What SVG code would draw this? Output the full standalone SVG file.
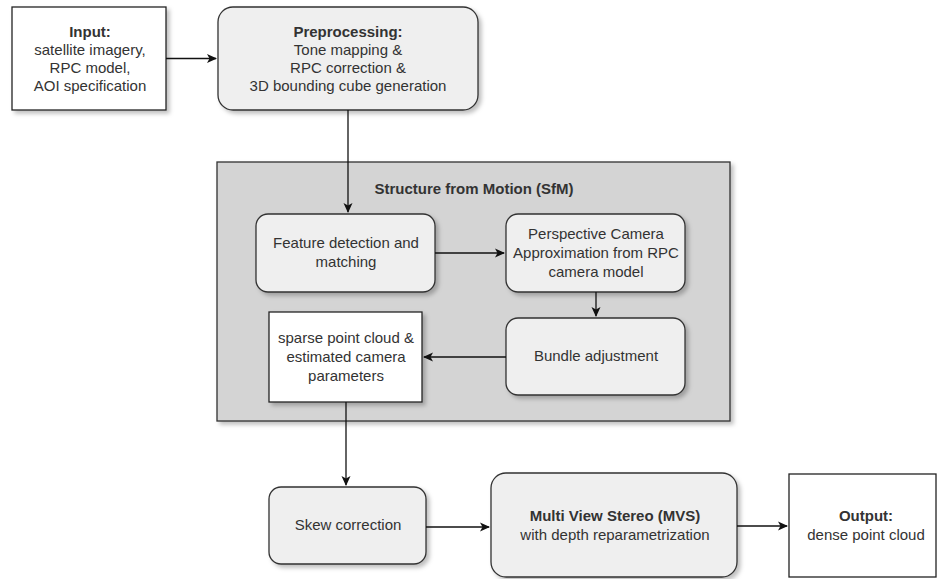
<svg xmlns="http://www.w3.org/2000/svg" width="938" height="579" viewBox="0 0 938 579">
<defs>
<filter id="sh" x="-10%" y="-10%" width="130%" height="140%">
<feDropShadow dx="3" dy="3" stdDeviation="2" flood-color="#000" flood-opacity="0.25"/>
</filter>
<marker id="ah" viewBox="0 0 10 10" refX="9" refY="5" markerWidth="10" markerHeight="10" markerUnits="userSpaceOnUse" orient="auto">
<path d="M0,0.5 L10,5 L0,9.5 L2.5,5 Z" fill="#111"/>
</marker>
<style>
.r{fill:#efefef;stroke:#333;stroke-width:1.3}
.w{fill:#fff;stroke:#222;stroke-width:1.3}
.c{fill:#d4d4d4;stroke:#333;stroke-width:1.3}
text{font-family:"Liberation Sans",Arial,sans-serif;font-size:15px;fill:#333;text-anchor:middle}
.b{font-weight:bold}
.e{fill:none;stroke:#111;stroke-width:1.3}
</style>
</defs>
<g id="sfm">
<rect class="c" x="217" y="162" width="513" height="259" filter="url(#sh)"/>
<text class="b" x="474" y="194">Structure from Motion (SfM)</text>
</g>
<g id="input">
<rect class="w" x="12" y="7" width="154" height="103" filter="url(#sh)"/>
<text x="90" y="37"><tspan class="b" x="90">Input:</tspan><tspan x="90" dy="18">satellite imagery,</tspan><tspan x="90" dy="18">RPC model,</tspan><tspan x="90" dy="18">AOI specification</tspan></text>
</g>
<g id="preprocessing">
<rect class="r" x="218" y="7" width="260" height="103" rx="15" filter="url(#sh)"/>
<text x="348" y="37"><tspan class="b" x="348">Preprocessing:</tspan><tspan x="348" dy="18">Tone mapping &amp;</tspan><tspan x="348" dy="18">RPC correction &amp;</tspan><tspan x="348" dy="18">3D bounding cube generation</tspan></text>
</g>
<g id="feature">
<rect class="r" x="256" y="214" width="179" height="78" rx="12" filter="url(#sh)"/>
<text x="346" y="248">Feature detection and<tspan x="346" dy="19">matching</tspan></text>
</g>
<g id="perspective">
<rect class="r" x="506" y="214" width="179" height="78" rx="12" filter="url(#sh)"/>
<text x="596" y="239">Perspective Camera<tspan x="596" dy="19">Approximation from RPC</tspan><tspan x="596" dy="19">camera model</tspan></text>
</g>
<g id="bundle">
<rect class="r" x="506" y="318" width="179" height="77" rx="12" filter="url(#sh)"/>
<text x="596" y="361">Bundle adjustment</text>
</g>
<g id="sparse">
<rect class="w" x="269" y="312" width="153" height="90" filter="url(#sh)"/>
<text x="346" y="343">sparse point cloud &amp;<tspan x="346" dy="19">estimated camera</tspan><tspan x="346" dy="19">parameters</tspan></text>
</g>
<g id="skew">
<rect class="r" x="269" y="487" width="157" height="77" rx="12" filter="url(#sh)"/>
<text x="348" y="530">Skew correction</text>
</g>
<g id="mvs">
<rect class="r" x="491" y="473" width="246" height="104" rx="15" filter="url(#sh)"/>
<text x="615" y="521"><tspan class="b" x="615">Multi View Stereo (MVS)</tspan><tspan x="615" dy="19">with depth reparametrization</tspan></text>
</g>
<g id="output">
<rect class="w" x="789" y="474" width="147" height="103"/>
<text x="866" y="521"><tspan class="b" x="866">Output:</tspan><tspan x="866" dy="19">dense point cloud</tspan></text>
</g>
<g id="connectors">
<path class="e" d="M166,58.5 H216" marker-end="url(#ah)"/>
<path class="e" d="M348,110 V212" marker-end="url(#ah)"/>
<path class="e" d="M435,253 H504" marker-end="url(#ah)"/>
<path class="e" d="M596,292 V316" marker-end="url(#ah)"/>
<path class="e" d="M506,357 H424" marker-end="url(#ah)"/>
<path class="e" d="M346,402 V485" marker-end="url(#ah)"/>
<path class="e" d="M426,527 H489" marker-end="url(#ah)"/>
<path class="e" d="M737,526 H787" marker-end="url(#ah)"/>
</g>
</svg>
